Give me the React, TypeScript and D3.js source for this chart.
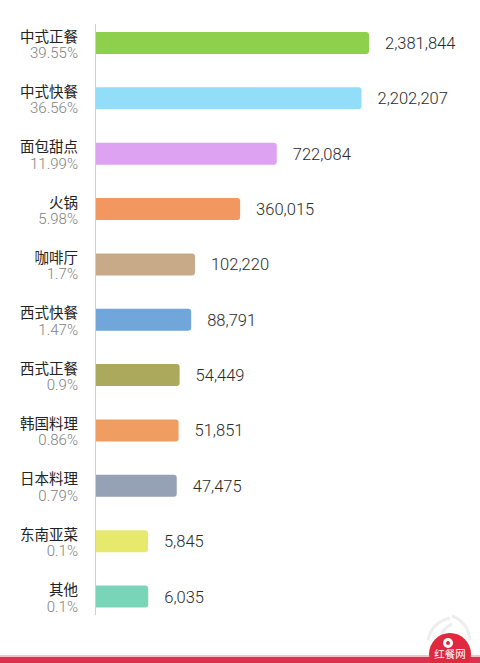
import React from "react";
import * as d3 from "d3";

const categories = ["中式正餐", "中式快餐", "面包甜点", "火锅", "咖啡厅", "西式快餐", "西式正餐", "韩国料理", "日本料理", "东南亚菜", "其他"];
const counts = [2381844, 2202207, 722084, 360015, 102220, 88791, 54449, 51851, 47475, 5845, 6035];
const shares = ["39.55%", "36.56%", "11.99%", "5.98%", "1.7%", "1.47%", "0.9%", "0.86%", "0.79%", "0.1%", "0.1%"];
const colors = ["#8ed04c", "#92ddf8", "#dda2f1", "#f2975f", "#c8aa88", "#71a6da", "#aaa95c", "#f09d62", "#95a1b4", "#e6e96c", "#7ad5b8"];

const W = 480;
const H = 663;
const axisX = 96;

export default function App() {
  const y = d3.scalePoint<string>().domain(categories).range([43, 596.5]);
  const len = d3.scalePow().exponent(0.4).domain([0, d3.max(counts) as number]).range([30, 273]);
  const fmt = d3.format(",");
  const barH = 22;
  const r = 3;

  const barPath = (x0: number, x1: number, y0: number, h: number) =>
    `M${x0},${y0}H${x1 - r}Q${x1},${y0} ${x1},${y0 + r}V${y0 + h - r}Q${x1},${y0 + h} ${x1 - r},${y0 + h}H${x0}Z`;

  return (
    <svg width={W} height={H} style={{ position: "absolute", left: 0, top: 0, background: "#fff" }}>
      <rect x={0} y={0} width={W} height={H} fill="#fff" />
      {/* watermark arcs */}
      <g fill="none" stroke="#eee" strokeWidth={3}>
        <path d="M428,640 Q432,622 450,618" />
        <path d="M440,640 Q442,628 452,624" />
        <path d="M470,640 Q468,622 452,616" />
      </g>
      {categories.map((c, i) => {
        const cy = y(c) as number;
        const x1 = axisX + len(counts[i]);
        return (
          <g key={c}>
            <path d={barPath(axisX, x1, cy - barH / 2, barH)} fill={colors[i]} />
            <text
              x={x1 + 16}
              y={cy + 6}
              fontFamily="Roboto, 'Noto Sans', sans-serif"
              fontWeight={300}
              fontSize={16.5}
              fill="#2a2a2a"
            >
              {fmt(counts[i])}
            </text>
            <text
              x={78}
              y={cy - 1.5}
              textAnchor="end"
              fontFamily="'Noto Sans CJK SC', sans-serif"
              fontWeight={400}
              fontSize={14.5}
              fill="#222"
            >
              {c}
            </text>
            <text
              x={78}
              y={cy + 15}
              textAnchor="end"
              fontFamily="Roboto, 'Noto Sans', sans-serif"
              fontWeight={300}
              fontSize={15}
              fill="#808080"
            >
              {shares[i]}
            </text>
          </g>
        );
      })}
      <line x1={axisX - 0.5} x2={axisX - 0.5} y1={24} y2={615} stroke="#cfcfcf" strokeWidth={1} />
      {/* bottom strip */}
      <rect x={0} y={655} width={W} height={2} fill="#f3c2cb" />
      <rect x={0} y={657} width={W} height={6} fill="#d9334f" />
      {/* logo */}
      <circle cx={450} cy={654} r={21} fill="#e0283f" />
      <circle cx={448} cy={643} r={5} fill="#fff" />
      <circle cx={448} cy={643} r={2} fill="#e0283f" />
      <text x={450} y={658} textAnchor="middle" fontFamily="'Noto Sans CJK SC', sans-serif" fontSize={10.5} fill="#fff">
        红餐网
      </text>
    </svg>
  );
}
